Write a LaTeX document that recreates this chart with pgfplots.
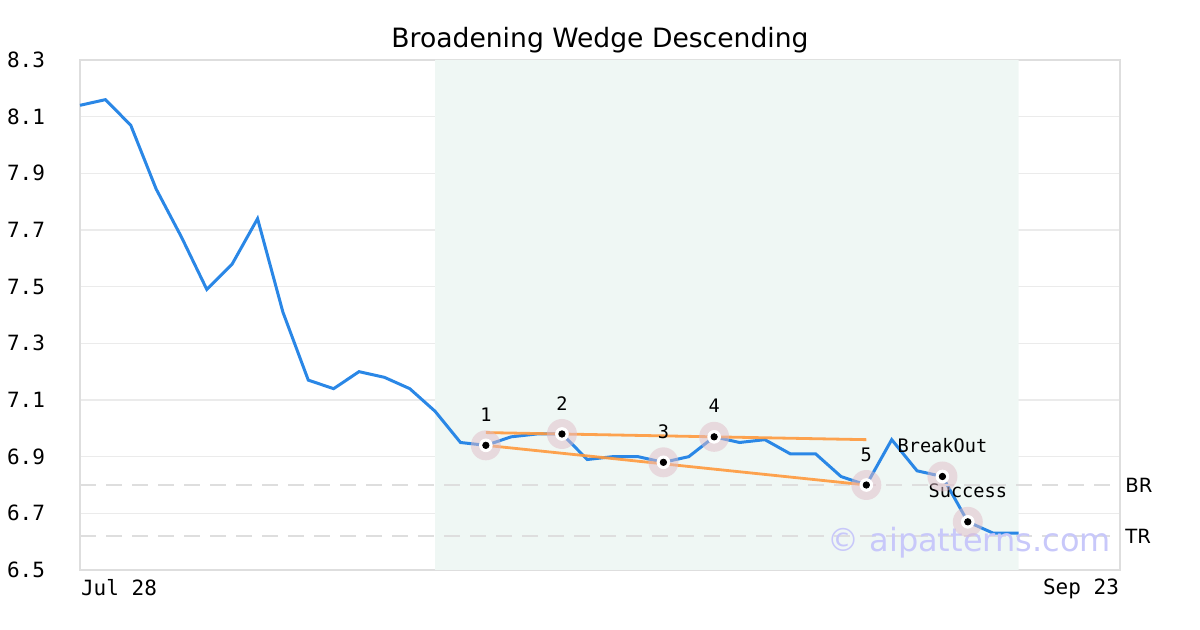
\documentclass[border=0pt]{standalone}
\usepackage{fontspec}
\setmainfont{DejaVu Sans}
\setmonofont{DejaVu Sans Mono}
\usepackage{pgfplots}
\pgfplotsset{compat=1.18}
\definecolor{lineblue}{RGB}{42,135,230}
\definecolor{wedgeorange}{RGB}{255,153,60}
\definecolor{shade}{RGB}{239,247,244}
\definecolor{halo}{RGB}{225,188,200}
\definecolor{framegray}{RGB}{222,222,222}
\definecolor{gridgray}{RGB}{235,235,235}
\definecolor{wm}{RGB}{200,200,250}
\begin{document}
\begin{tikzpicture}
\path[use as bounding box] (0,0) rectangle (600pt,315pt);
\begin{axis}[
  at={(40pt,30pt)}, anchor=south west,
  scale only axis, width=520pt, height=255pt,
  xmin=0, xmax=41, ymin=6.5, ymax=8.3,
  clip=false,
  axis line style={draw=framegray, line width=1.2pt},
  major tick length=0pt,
  ytick={6.5,6.7,6.9,7.1,7.3,7.5,7.7,7.9,8.1,8.3},
  yticklabel style={/pgf/number format/fixed, /pgf/number format/precision=1, /pgf/number format/fixed zerofill, font=\fontsize{10.5}{12}\ttfamily, anchor=east, xshift=-14pt},
  /pgf/number format/assume math mode=true,
  ymajorgrids, grid style={draw=gridgray, line width=0.6pt},
  xtick={0}, xticklabels={Jul 28},
  xticklabel style={font=\fontsize{10.5}{12}\ttfamily, anchor=north west, yshift=-1pt, xshift=-3pt},
  extra x ticks={41}, extra x tick labels={Sep 23},
  extra x tick style={xticklabel style={anchor=north east, xshift=6pt}, grid=none},
]
% shaded pattern region
\addplot[draw=none, fill=shade] coordinates {(14,6.5) (14,8.3) (37,8.3) (37,6.5)} \closedcycle;
% price
\addplot[lineblue, line width=1.5pt, line join=miter] coordinates {
(0,8.14) (1,8.16) (2,8.07) (3,7.845) (4,7.675) (5,7.49) (6,7.58) (7,7.74)
(8,7.41) (9,7.17) (10,7.14) (11,7.20) (12,7.18) (13,7.14) (14,7.06) (15,6.95)
(16,6.94) (17,6.97) (18,6.98) (19,6.98) (20,6.89) (21,6.90) (22,6.90) (23,6.88)
(24,6.90) (25,6.97) (26,6.95) (27,6.96) (28,6.91) (29,6.91) (30,6.83) (31,6.80)
(32,6.96) (33,6.85) (34,6.83) (35,6.67) (36,6.63) (37,6.63)};
% BR / TR
\addplot[framegray, line width=1.3pt, dash pattern=on 8pt off 5pt] coordinates {(0,6.80) (41,6.80)};
\addplot[framegray, line width=1.3pt, dash pattern=on 8pt off 5pt] coordinates {(0,6.62) (41,6.62)};
% halos
\addplot[only marks, mark=*, mark size=7.5pt, color=halo, mark options={draw=none, fill=halo, fill opacity=0.5, draw opacity=0}] coordinates {
(16,6.94) (19,6.98) (23,6.88) (25,6.97) (31,6.80) (34,6.83) (35,6.67)};
% wedge lines
\addplot[wedgeorange, line width=1.4pt, opacity=0.9] coordinates {(16,6.985) (31,6.96)};
\addplot[wedgeorange, line width=1.4pt, opacity=0.9] coordinates {(16,6.94) (31,6.80)};
% markers
\addplot[only marks, mark=*, mark size=3.2pt, color=white, mark options={draw=none, fill=white}] coordinates {
(16,6.94) (19,6.98) (23,6.88) (25,6.97) (31,6.80) (34,6.83) (35,6.67)};
\addplot[only marks, mark=*, mark size=1.6pt, color=black, mark options={draw=none, fill=black}] coordinates {
(16,6.94) (19,6.98) (23,6.88) (25,6.97) (31,6.80) (34,6.83) (35,6.67)};
% labels
\begin{scope}[every node/.style={font=\fontsize{9.3}{11}\ttfamily, inner sep=0pt}]
\node at (axis cs:16,7.047) {1};
\node at (axis cs:19,7.086) {2};
\node at (axis cs:23,6.987) {3};
\node at (axis cs:25,7.079) {4};
\node at (axis cs:31,6.906) {5};
\node at (axis cs:34,6.938) {BreakOut};
\node at (axis cs:35,6.779) {Success};
\end{scope}
\node[font=\fontsize{9.8}{11}\selectfont, anchor=west, inner sep=0pt] at (axis cs:41.2,6.80) {BR};
\node[font=\fontsize{9.8}{11}\selectfont, anchor=west, inner sep=0pt] at (axis cs:41.2,6.62) {TR};
\node[font=\fontsize{16}{18}\selectfont, text=wm, inner sep=0pt] at (axis cs:35.05,6.595) {© aipatterns.com};
\node[font=\fontsize{13.3}{15}\selectfont, inner sep=0pt] at (rel axis cs:0.5,1.039) {Broadening Wedge Descending};
\end{axis}
\end{tikzpicture}
\end{document}
